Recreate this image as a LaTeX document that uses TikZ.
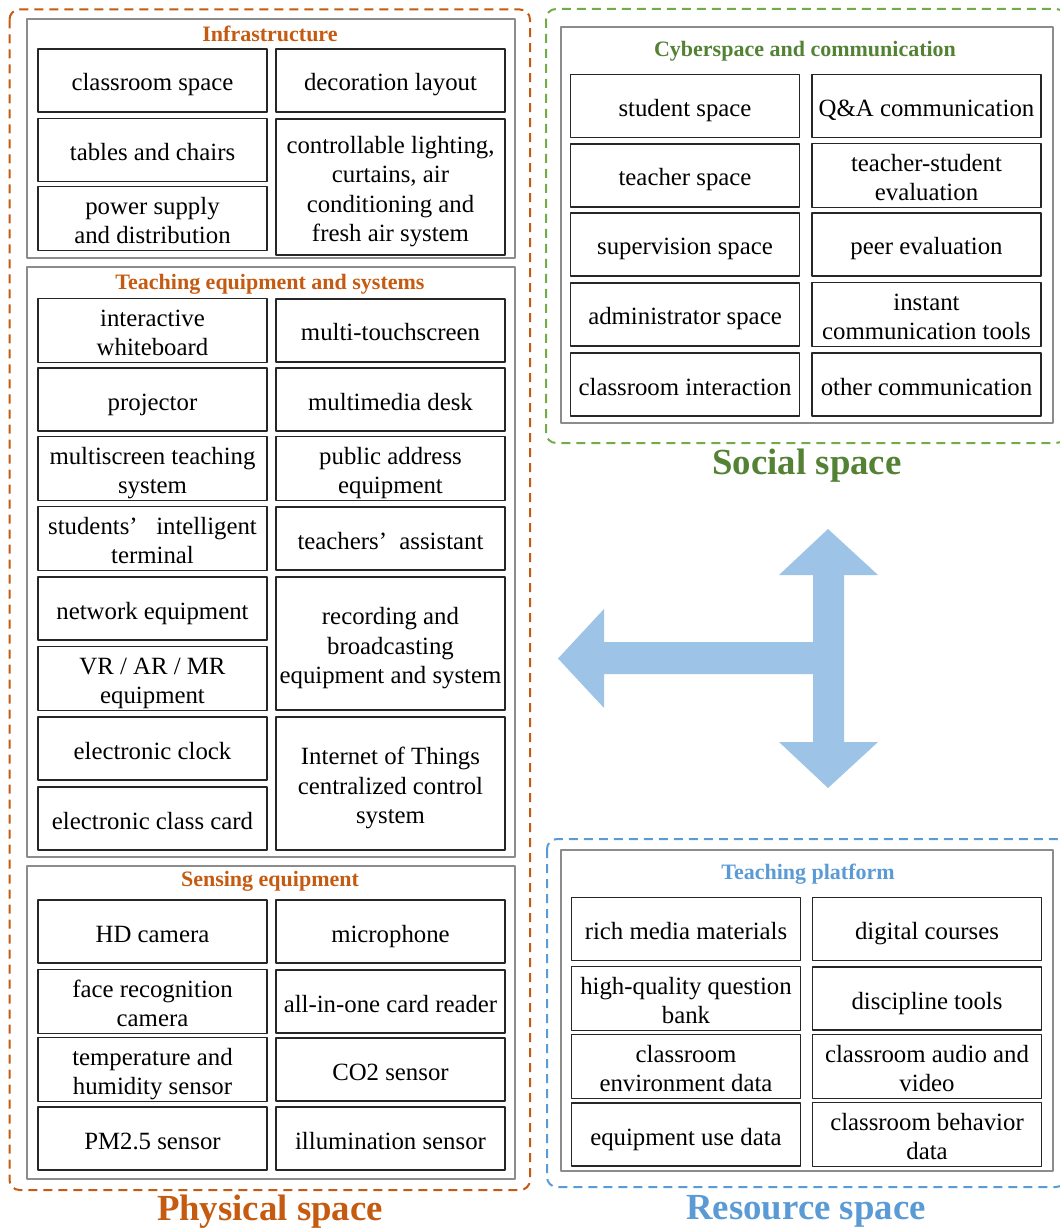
\documentclass[tikz,border=0pt]{standalone}
\usepackage{fontspec}
\setmainfont{Liberation Serif}
\definecolor{physcol}{HTML}{C55A11}
\definecolor{soccol}{HTML}{548235}
\definecolor{socline}{HTML}{70AD47}
\definecolor{rescol}{HTML}{5B9BD5}
\definecolor{arrowcol}{HTML}{9DC3E6}
\begin{document}
\begin{tikzpicture}[x=0.5pt,y=-0.5pt,line join=round,
		cell/.style={draw=black!85,line width=0.6pt,minimum width=114.5pt,minimum height=31.5pt,inner xsep=0.5pt,inner ysep=0pt,text width=113.5pt,font=\fontsize{12.4}{14.7}\selectfont,
			execute at begin node={\centering\spaceskip=\fontdimen2\font\xspaceskip=\fontdimen2\font\rule{0pt}{14pt}},
			execute at end node={\rule[-3.5pt]{0pt}{0pt}}},
		panel/.style={draw=black!45,line width=0.6pt},
		zone/.style={dash pattern=on 4.5pt off 3pt,line width=1pt,rounded corners=5pt},
		head/.style={font=\fontsize{11}{13}\selectfont\bfseries},
		bigtitle/.style={font=\fontsize{18.4}{22}\selectfont\bfseries}]
	\useasboundingbox (0,0) rectangle (1059,1229);
	% outer zones
	\draw[zone,physcol] (9.5,9.5) rectangle (530,1190);
	\draw[zone,socline] (546,9) rectangle (1066,443);
	\draw[zone,rescol] (547,839) rectangle (1066,1187);
	\node[bigtitle,physcol] (phys) at (270,1212) {Physical space};
	\node[bigtitle,soccol] (soc) at (807,466) {Social space};
	\node[bigtitle,rescol] (res) at (806,1211) {Resource space};
	% physical space
	\draw[panel] (27,19) rectangle (515,258);
	\draw[panel] (27,267) rectangle (515,857);
	\draw[panel] (27,866) rectangle (515,1179);
	\node[head,physcol] (inf) at (270,34) {Infrastructure};
	\node[cell] (inf1) at (152.5,80.5) {classroom space};
	\node[cell] (inf2) at (390.5,80.5) {decoration layout};
	\node[cell] (inf3) at (152.5,150) {tables and chairs};
	\node[cell] (inf4) at (152.5,218.5) {power supply\\and distribution};
	\node[cell,minimum height=68pt] (inf5) at (390.5,187) {controllable lighting,\\curtains, air\\conditioning and\\fresh air system};
	\node[head,physcol] (teq) at (270,284) {Teaching equipment and systems};
	\node[cell] (teq1) at (152.5,330.5) {interactive\\whiteboard};
	\node[cell] (teq2) at (390.5,330.5) {multi-touchscreen};
	\node[cell] (teq3) at (152.5,399.5) {projector};
	\node[cell] (teq4) at (390.5,399.5) {multimedia desk};
	\node[cell] (teq5) at (152.5,468.5) {multiscreen teaching\\system};
	\node[cell] (teq6) at (390.5,468.5) {public address\\equipment};
	\node[cell] (teq7) at (152.5,538.5) {students’\enspace\ intelligent\\terminal};
	\node[cell] (teq8) at (390.5,538.5) {teachers’\enspace assistant};
	\node[cell] (teq9) at (152.5,608.5) {network equipment};
	\node[cell] (teq10) at (152.5,678.5) {VR / AR / MR\\equipment};
	\node[cell,minimum height=66.5pt] (teq11) at (390.5,643.5) {recording and\\broadcasting\\equipment and system};
	\node[cell] (teq12) at (152.5,748.5) {electronic clock};
	\node[cell] (teq13) at (152.5,818.5) {electronic class card};
	\node[cell,minimum height=66.5pt] (teq14) at (390.5,783.5) {Internet of Things\\centralized control\\system};
	\node[head,physcol] (sen) at (270,881) {Sensing equipment};
	\node[cell] (sen1) at (152.5,931.5) {HD camera};
	\node[cell] (sen2) at (390.5,931.5) {microphone};
	\node[cell] (sen3) at (152.5,1001.5) {face recognition\\camera};
	\node[cell] (sen4) at (390.5,1001.5) {all-in-one card reader};
	\node[cell] (sen5) at (152.5,1069.5) {temperature and\\humidity sensor};
	\node[cell] (sen6) at (390.5,1069.5) {CO2 sensor};
	\node[cell] (sen7) at (152.5,1138.5) {PM2.5 sensor};
	\node[cell] (sen8) at (390.5,1138.5) {illumination sensor};
	% social space
	\draw[panel] (561,27) rectangle (1053,423);
	\node[head,soccol] (cyb) at (805,51) {Cyberspace and communication};
	\node[cell] (cyb1) at (685,106) {student space};
	\node[cell] (cyb2) at (926.5,106) {Q\&A communication};
	\node[cell] (cyb3) at (685,175.5) {teacher space};
	\node[cell] (cyb4) at (926.5,175.5) {teacher-student\\evaluation};
	\node[cell] (cyb5) at (685,244.5) {supervision space};
	\node[cell] (cyb6) at (926.5,244.5) {peer evaluation};
	\node[cell] (cyb7) at (685,314.5) {administrator space};
	\node[cell] (cyb8) at (926.5,314.5) {instant\\communication tools};
	\node[cell] (cyb9) at (685,384.5) {classroom interaction};
	\node[cell] (cyb10) at (926.5,384.5) {other communication};
	% resource space
	\draw[panel] (561,850) rectangle (1053,1171);
	\node[head,rescol] (tpl) at (808,874) {Teaching platform};
	\node[cell] (tpl1) at (686,929) {rich media materials};
	\node[cell] (tpl2) at (927,929) {digital courses};
	\node[cell] (tpl3) at (686,998.5) {high-quality question\\bank};
	\node[cell] (tpl4) at (927,998.5) {discipline tools};
	\node[cell] (tpl5) at (686,1066.5) {classroom\\environment data};
	\node[cell] (tpl6) at (927,1066.5) {classroom audio and\\video};
	\node[cell] (tpl7) at (686,1134.5) {equipment use data};
	\node[cell] (tpl8) at (927,1134.5) {classroom behavior\\data};
	% three-way arrow
	\fill[arrowcol] (828,529) -- (878,575) -- (844,575) -- (844,742) -- (878,742) -- (828,788)
		-- (779,742) -- (813,742) -- (813,674) -- (604,674) -- (604,708) -- (558,658.5)
		-- (604,609) -- (604,642) -- (813,642) -- (813,575) -- (779,575) -- cycle;
\end{tikzpicture}
\end{document}
